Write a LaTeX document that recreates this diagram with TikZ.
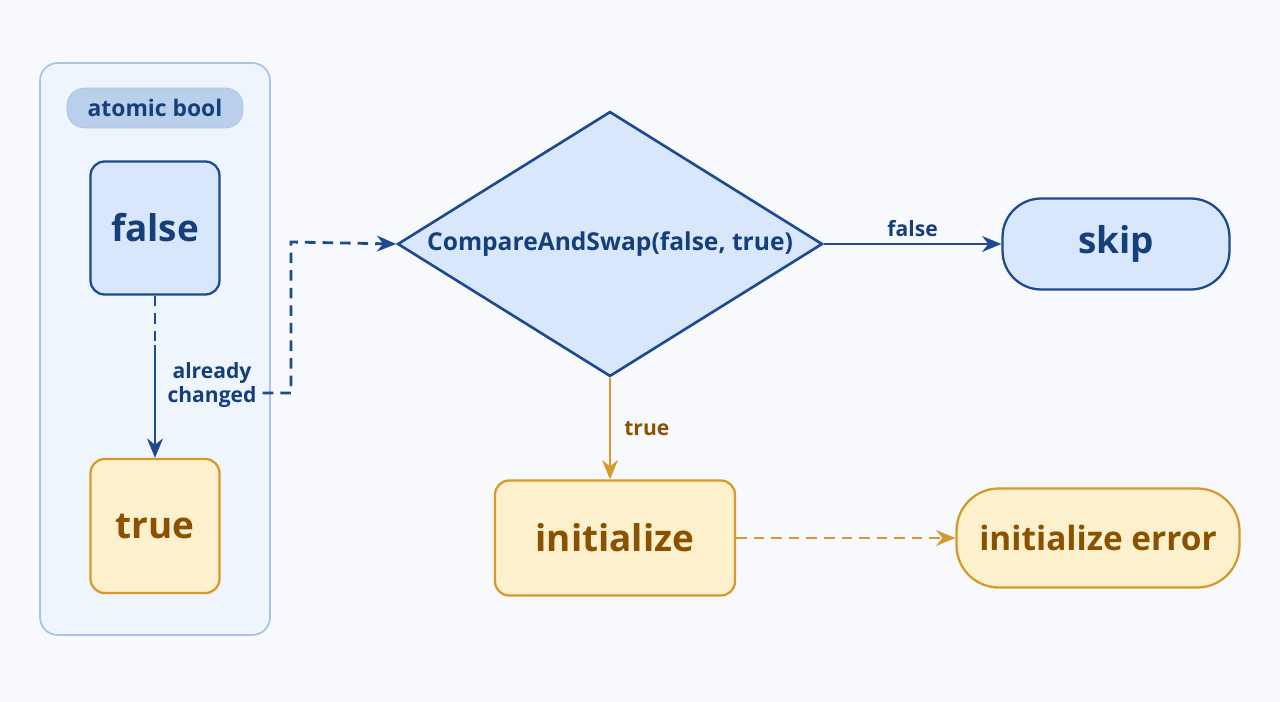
\documentclass[tikz,border=0pt]{standalone}
\usepackage{fontspec}
\setmainfont{Open Sans}
\usetikzlibrary{arrows.meta, shapes.geometric, positioning}
\definecolor{bg}{HTML}{F7F9FC}
\definecolor{navy}{HTML}{1E4B8F}
\definecolor{navytext}{HTML}{143F7A}
\definecolor{bluefill}{HTML}{D8E7FB}
\definecolor{paneblue}{HTML}{A9C3E6}
\definecolor{amber}{HTML}{D49A2E}
\definecolor{ambertext}{HTML}{8A5200}
\definecolor{amberfill}{HTML}{FDF0CC}
\tikzset{
  box/.style={draw=navy, fill=bluefill, rounded corners=8pt, line width=1.3pt, font=\bfseries\fontsize{21}{24}\selectfont, text=navytext},
  ybox/.style={draw=amber, fill=amberfill, rounded corners=8pt, line width=1.3pt, font=\bfseries\fontsize{21}{24}\selectfont, text=ambertext},
  lbl/.style={font=\bfseries\fontsize{12}{14}\selectfont},
  dsh/.style={dash pattern=on 6pt off 4pt},
  arr/.style={-{Stealth[length=11pt,width=9pt]}, line width=1.6pt}
}
\begin{document}
\begin{tikzpicture}[x=0.02cm, y=-0.02cm]
\fill[bg] (0,0) rectangle (1280,702);
\useasboundingbox (0,0) rectangle (1280,702);

% atomic bool panel
\node[draw=paneblue, fill=bluefill!40, rounded corners=10pt, line width=1pt, minimum width=4.6cm, minimum height=11.44cm] (panel) at (155,349) {};
\node[fill=paneblue!80, draw=paneblue, rounded corners=10pt, minimum width=3.52cm, minimum height=0.8cm, text=navytext, font=\bfseries\fontsize{13}{15}\selectfont] (atom) at (155,108) {atomic bool};
\node[box, minimum width=2.58cm, minimum height=2.66cm] (false) at (155,228) {false};
\node[ybox, minimum width=2.58cm, minimum height=2.68cm] (true) at (155,526) {true};
\coordinate (mid) at (155,345);
\draw[navy, line width=1.6pt, dsh] (false) -- (mid);
\draw[navy, arr] (mid) -- (true);
\node[lbl, text=navytext, align=center] (chg) at (212,385) {already\\changed};

% decision
\node[diamond, draw=navy, fill=bluefill, line width=1.5pt, aspect=1.6, minimum width=8.5cm, minimum height=5.3cm, inner sep=0pt, text=navytext, font=\bfseries\fontsize{14}{16}\selectfont] (cas) at (610,244) {CompareAndSwap(false, true)};
\coordinate (up1) at (291,393);
\coordinate (up2) at (291,242);
\draw[navy, dsh, arr] (chg.east |- up1) -- (up1) -- (up2) -- (cas.west);

\node[box, rounded corners=22pt, minimum width=4.54cm, minimum height=1.82cm] (skip) at (1116,244) {skip};
\draw[navy, arr] (cas.east) -- node[above, lbl, text=navytext] {false} (skip);

\node[ybox, minimum width=4.8cm, minimum height=2.3cm] (init) at (615,538) {initialize};
\draw[amber, arr] (cas.south) -- node[right, lbl, text=ambertext, xshift=4pt] {true} (init.north -| cas.south);

\node[ybox, rounded corners=24pt, minimum width=5.66cm, minimum height=1.98cm, font=\bfseries\fontsize{19}{22}\selectfont] (err) at (1098,538) {initialize error};
\draw[amber, dsh, arr] (init) -- (err);
\end{tikzpicture}
\end{document}
